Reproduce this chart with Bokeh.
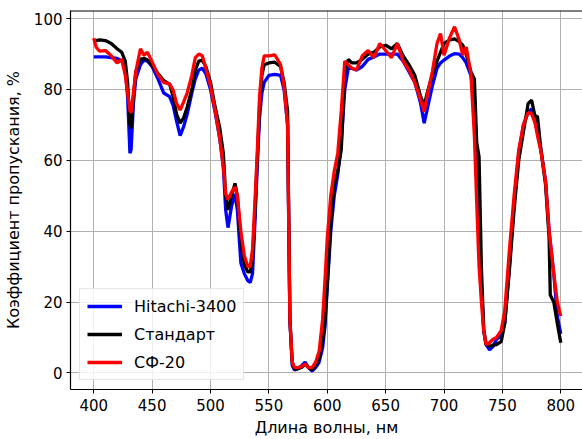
from bokeh.plotting import figure
from bokeh.models import Range1d, Legend, LegendItem, Span, FixedTicker
from bokeh.embed import file_html
from bokeh.resources import INLINE

wavelength = [400, 402, 405, 410, 415, 420, 424, 427, 429, 431, 432, 434, 436, 440, 443, 446, 450,
              455, 460, 465, 468, 471, 474, 477, 480, 484, 487, 490, 493, 496, 500, 504, 508, 511,
              513, 515, 518, 521, 523, 526, 529, 532, 534, 536, 538, 540, 542, 544, 546, 550, 555,
              560, 563, 566, 568, 570, 572, 575, 578, 581, 584, 587, 590, 593, 596, 598, 600, 603,
              606, 609, 612, 615, 618, 621, 625, 630, 635, 640, 645, 650, 655, 660, 665, 670, 675,
              680, 683, 686, 690, 694, 697, 700, 705, 709, 713, 716, 719, 723, 726, 728, 730, 732,
              734, 736, 739, 742, 745, 749, 752, 756, 760, 764, 768, 772, 775, 778, 780, 783, 787,
              790, 791, 794, 797, 800]

standard = [93.5, 93.8, 94, 93.8, 93, 91.5, 90.5, 88, 82, 70, 69, 78, 85, 88.5, 88.8, 88.3, 86.8,
            84.5, 82.5, 81.5, 78, 73, 70.5, 72, 75, 80, 85.5, 88, 88.3, 86.5, 82, 75, 69, 62,
            50, 46, 50, 53.5, 50, 37, 30.5, 28.5, 28.5, 32, 45, 60, 75, 84, 87, 87.5, 87.7,
            86.5, 82, 74, 15, 3, 1, 1.2, 1.5, 2.5, 1.5, 0.8, 2, 4, 9, 14, 25, 42,
            53, 57, 63, 85, 88.5, 87.5, 87.5, 88.5, 90, 90.5, 92, 92.5, 91.5, 93, 89.5, 87, 84,
            78, 75.5, 79.5, 84, 88, 90.5, 93, 94, 94.3, 93.5, 92.5, 90, 85, 83, 65, 61, 30,
            12, 8, 7.5, 7.8, 8, 8.8, 14, 29, 46, 60, 68, 76, 77, 72.3, 72.5, 63, 53,
            38, 22, 20, 14, 8.5]

hitachi = [89.2, 89.2, 89.2, 89.2, 89, 88.8, 88, 86, 78, 62, 63, 76, 83, 87, 88.3, 88, 86.5,
           83, 79, 78, 75.5, 71, 67, 69.5, 73, 79, 83, 85.5, 86, 84.5, 80, 73.5, 66, 58,
           46, 41, 47, 50.5, 46, 31, 28, 26, 25.5, 28, 42, 58, 72, 79, 82, 84, 84.3,
           84, 80, 70, 15, 2, 0.8, 1.2, 2, 3, 1.5, 0.5, 1.5, 3, 7, 13, 24, 40,
           50, 56, 65, 80, 86, 86, 85.5, 86.5, 88.5, 89.2, 90, 90, 90, 90, 88, 85, 82,
           76, 70.5, 75, 81, 86, 87.5, 88.3, 89.5, 90.1, 90, 89, 87.5, 84, 78, 60, 40, 25,
           12, 8, 6.5, 7.5, 9.5, 10.5, 14, 30, 48, 62, 70, 73.5, 74.5, 71, 68, 63, 54,
           40, 37, 28, 16, 11]

sf20 = [94.5, 92, 90.8, 91, 89.5, 87.5, 88.5, 84, 79, 74, 73.5, 79, 85, 91.5, 89.7, 90.5, 87.8,
        84.2, 82, 81.5, 79.8, 76, 74.2, 76.5, 79, 84, 89, 90, 89.5, 86, 81, 74, 66, 58,
        50.5, 49, 51, 52.5, 50, 40, 33, 30, 30, 35, 48, 62, 78, 86, 89.5, 89.5, 89.8,
        87, 81, 70, 15, 3, 1.5, 1.5, 1.8, 2.5, 1.5, 1.5, 3, 6, 15, 26, 38, 50,
        57, 62, 74, 88, 87, 86, 85.5, 89.5, 91, 89, 93, 91, 89, 93, 88, 85.5, 82,
        77, 73.7, 79, 85, 93, 95.8, 89.7, 94.8, 97.7, 94, 89.7, 92, 84.5, 67, 48, 30, 20,
        12, 8, 8.5, 9.5, 10, 12, 17.5, 34.7, 50, 63, 70, 73.5, 73.2, 70.5, 67, 62.5, 54,
        40, 37, 28, 20, 16]

series_names = ["Hitachi-3400", "Стандарт", "СФ-20"]
x_ticks = [400, 450, 500, 550, 600, 650, 700, 750, 800]
y_ticks = [0, 20, 40, 60, 80, 100]
x_title = "Длина волны, нм"
y_title = "Коэффициент пропускания, %"

X_START, X_END = 380.1, 818.6
Y_START, Y_END = -4.7, 102.3

FONT = "DejaVu Sans"

p = figure(width=582, height=439, output_backend="svg", toolbar_location=None,
           x_range=Range1d(X_START, X_END), y_range=Range1d(Y_START, Y_END),
           min_border_left=69, min_border_right=0, min_border_top=10, min_border_bottom=49)

p.outline_line_color = None
p.background_fill_color = "white"

for ax in (p.xaxis, p.yaxis):
    ax.axis_line_color = "black"
    ax.axis_line_width = 1.2
    ax.major_tick_in = 0
    ax.major_tick_out = 4
    ax.major_tick_line_color = "black"
    ax.minor_tick_line_color = None
    ax.major_label_text_font = FONT
    ax.major_label_text_font_size = "15px"
    ax.major_label_text_color = "black"
    ax.axis_label_text_font = FONT
    ax.axis_label_text_font_size = "16px"
    ax.axis_label_text_font_style = "normal"
    ax.axis_label_text_color = "black"

p.xaxis.ticker = FixedTicker(ticks=x_ticks)
p.yaxis.ticker = FixedTicker(ticks=y_ticks)
p.xaxis.axis_label = x_title
p.yaxis.axis_label = y_title
p.xaxis.major_label_standoff = 5
p.xaxis.axis_label_standoff = 4
p.yaxis.major_label_standoff = 4
p.yaxis.axis_label_standoff = 8

p.grid.grid_line_color = "#b0b0b0"
p.grid.grid_line_width = 1
p.xgrid.ticker = FixedTicker(ticks=x_ticks)
p.ygrid.ticker = FixedTicker(ticks=y_ticks)

top_spine = Span(location=Y_END, dimension="width", line_color="black", line_width=2)
p.add_layout(top_spine)

r_blue = p.line(wavelength, hitachi, line_color="#0000ff", line_width=3.3)
r_black = p.line(wavelength, standard, line_color="black", line_width=3.3)
r_red = p.line(wavelength, sf20, line_color="#ff0000", line_width=3.3)

legend = Legend(items=[LegendItem(label=series_names[0], renderers=[r_blue]),
                       LegendItem(label=series_names[1], renderers=[r_black]),
                       LegendItem(label=series_names[2], renderers=[r_red])],
                location="bottom_left")
legend.margin = 9
legend.padding = 7
legend.spacing = 8
legend.glyph_width = 35
legend.glyph_height = 20
legend.label_height = 20
legend.label_standoff = 12
legend.label_text_font = FONT
legend.label_text_font_size = "16px"
legend.label_text_color = "black"
legend.border_line_color = "#cccccc"
legend.border_line_width = 1
legend.background_fill_alpha = 0.8
p.add_layout(legend)

open("out.html", "w").write(file_html(p, INLINE))
